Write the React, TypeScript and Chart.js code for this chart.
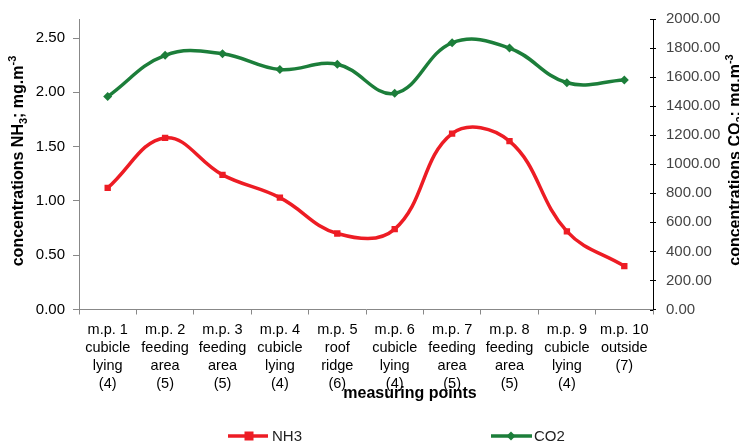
import React, { useEffect, useRef } from "react";
import { Chart, registerables } from "chart.js";

Chart.register(...registerables);

const categories: string[][] = [
  ["m.p. 1", "cubicle", "lying", "(4)"],
  ["m.p. 2", "feeding", "area", "(5)"],
  ["m.p. 3", "feeding", "area", "(5)"],
  ["m.p. 4", "cubicle", "lying", "(4)"],
  ["m.p. 5", "roof", "ridge", "(6)"],
  ["m.p. 6", "cubicle", "lying", "(4)"],
  ["m.p. 7", "feeding", "area", "(5)"],
  ["m.p. 8", "feeding", "area", "(5)"],
  ["m.p. 9", "cubicle", "lying", "(4)"],
  ["m.p. 10", "outside", "(7)"],
];

const nh3Values = [1.12, 1.58, 1.24, 1.03, 0.7, 0.74, 1.62, 1.55, 0.72, 0.4];
const co2Values = [1466, 1750, 1761, 1652, 1689, 1488, 1836, 1800, 1561, 1580];

const leftTicks = [0, 0.5, 1, 1.5, 2, 2.5];
const rightTicks = [0, 200, 400, 600, 800, 1000, 1200, 1400, 1600, 1800, 2000];

const FONT = "'Liberation Sans', Arial, Helvetica, sans-serif";
const RED = "#ed1c24";
const GREEN = "#1c7e3a";

type Seg = { t: string; size: number; dy: number; bold?: boolean };

function drawRotatedRich(ctx: CanvasRenderingContext2D, x: number, cy: number, segs: Seg[]) {
  ctx.save();
  let total = 0;
  const widths = segs.map((s) => {
    ctx.font = `${s.bold === false ? "" : "bold "}${s.size}px ${FONT}`;
    const w = ctx.measureText(s.t).width;
    total += w;
    return w;
  });
  ctx.translate(x, cy);
  ctx.rotate(-Math.PI / 2);
  ctx.textBaseline = "alphabetic";
  ctx.textAlign = "left";
  ctx.fillStyle = "#000";
  let px = -total / 2;
  segs.forEach((s, i) => {
    ctx.font = `${s.bold === false ? "" : "bold "}${s.size}px ${FONT}`;
    ctx.fillText(s.t, px, s.dy);
    px += widths[i];
  });
  ctx.restore();
}

const extrasPlugin = {
  id: "extras",
  afterDraw(chart: any) {
    const ctx: CanvasRenderingContext2D = chart.ctx;
    const yR = chart.scales.yR;
    const area = chart.chartArea;
    ctx.save();
    // inner part of right-axis tick marks
    ctx.strokeStyle = "#000";
    ctx.lineWidth = 1;
    rightTicks.forEach((v) => {
      const y = Math.round(yR.getPixelForValue(v)) + 0.5;
      ctx.beginPath();
      ctx.moveTo(area.right - 3, y);
      ctx.lineTo(area.right, y);
      ctx.stroke();
    });

    // x axis title
    ctx.font = `bold 16px ${FONT}`;
    ctx.fillStyle = "#000";
    ctx.textAlign = "center";
    ctx.textBaseline = "alphabetic";
    ctx.fillText("measuring points", 410, 398);

    // y axis titles
    drawRotatedRich(ctx, 23, 161, [
      { t: "concentrations NH", size: 16, dy: 0 },
      { t: "3", size: 11, dy: 4 },
      { t: "; mg.m", size: 16, dy: 0 },
      { t: "-3", size: 11, dy: -7 },
    ]);
    drawRotatedRich(ctx, 740, 160, [
      { t: "concentrations CO", size: 16, dy: 0 },
      { t: "2", size: 11, dy: 4 },
      { t: "; mg.m", size: 16, dy: 0 },
      { t: "-3", size: 11, dy: -7 },
    ]);

    // legend
    const ly = 436;
    ctx.lineWidth = 3.5;
    ctx.strokeStyle = RED;
    ctx.beginPath();
    ctx.moveTo(228, ly);
    ctx.lineTo(268, ly);
    ctx.stroke();
    ctx.fillStyle = RED;
    ctx.fillRect(249 - 4.5, ly - 4.5, 9, 9);
    ctx.strokeStyle = GREEN;
    ctx.beginPath();
    ctx.moveTo(491, ly);
    ctx.lineTo(532, ly);
    ctx.stroke();
    ctx.fillStyle = GREEN;
    ctx.beginPath();
    ctx.moveTo(511, ly - 4.5);
    ctx.lineTo(515.5, ly);
    ctx.lineTo(511, ly + 4.5);
    ctx.lineTo(506.5, ly);
    ctx.closePath();
    ctx.fill();
    ctx.font = `15px ${FONT}`;
    ctx.fillStyle = "#222";
    ctx.textAlign = "left";
    ctx.textBaseline = "middle";
    ctx.fillText("NH3", 272, ly + 1);
    ctx.fillText("CO2", 534, ly + 1);
    ctx.restore();
  },
};

export default function App() {
  const canvasRef = useRef<HTMLCanvasElement | null>(null);

  useEffect(() => {
    if (!canvasRef.current) return;
    Chart.defaults.font.family = FONT;
    const chart = new Chart(canvasRef.current, {
      type: "line",
      data: {
        labels: categories,
        datasets: [
          {
            label: "NH3",
            data: nh3Values,
            yAxisID: "yL",
            borderColor: RED,
            backgroundColor: RED,
            borderWidth: 3.5,
            pointStyle: "rect",
            pointRadius: 4.5,
            pointBorderWidth: 0,
            pointBackgroundColor: RED,
            tension: 0.4,
            fill: false,
          },
          {
            label: "CO2",
            data: co2Values,
            yAxisID: "yR",
            borderColor: GREEN,
            backgroundColor: GREEN,
            borderWidth: 3.5,
            pointStyle: "rectRot",
            pointRadius: 4.5,
            pointBorderWidth: 0,
            pointBackgroundColor: GREEN,
            tension: 0.4,
            fill: false,
          },
        ],
      },
      options: {
        animation: false,
        responsive: false,
        devicePixelRatio: 1,
        layout: { padding: { top: 17, left: 0, right: 0, bottom: 0 } },
        plugins: {
          legend: { display: false },
          tooltip: { enabled: false },
          title: { display: false },
        },
        scales: {
          x: {
            type: "category",
            offset: true,
            grid: {
              display: true,
              drawOnChartArea: false,
              drawTicks: true,
              tickLength: 5,
              offset: true,
              color: "#888",
            },
            border: { display: true, color: "#888", width: 1 },
            ticks: {
              autoSkip: false,
              maxRotation: 0,
              minRotation: 0,
              padding: 6,
              color: "#000",
              font: { size: 14.5, family: FONT, lineHeight: 1.26 },
            },
            afterFit: (s: any) => {
              s.height = 134.5;
            },
          },
          yL: {
            type: "linear",
            position: "left",
            min: 0,
            max: 2.675,
            afterBuildTicks: (s: any) => {
              s.ticks = leftTicks.map((v) => ({ value: v }));
            },
            grid: {
              display: true,
              drawOnChartArea: false,
              drawTicks: true,
              tickLength: 6,
              color: "#888",
            },
            border: { display: true, color: "#888", width: 1 },
            ticks: {
              padding: 8,
              color: "#000",
              font: { size: 15, family: FONT },
              callback: (v: any) => Number(v).toFixed(2),
            },
            afterFit: (s: any) => {
              s.width = 79;
            },
          },
          yR: {
            type: "linear",
            position: "right",
            min: 0,
            max: 2000,
            afterBuildTicks: (s: any) => {
              s.ticks = rightTicks.map((v) => ({ value: v }));
            },
            grid: {
              display: true,
              drawOnChartArea: false,
              drawTicks: true,
              tickLength: 3,
              color: "#000",
            },
            border: { display: true, color: "#000", width: 1 },
            ticks: {
              padding: 10,
              color: "#444",
              font: { size: 15, family: FONT },
              callback: (v: any) => Number(v).toFixed(2),
            },
            afterFit: (s: any) => {
              s.width = 86;
            },
          },
        },
      },
      plugins: [extrasPlugin],
    } as any);
    return () => chart.destroy();
  }, []);

  return (
    <div style={{ position: "absolute", left: 0, top: 0, width: 739, height: 444, background: "#fff" }}>
      <canvas ref={canvasRef} width={739} height={444} style={{ width: 739, height: 444, display: "block" }} />
    </div>
  );
}
